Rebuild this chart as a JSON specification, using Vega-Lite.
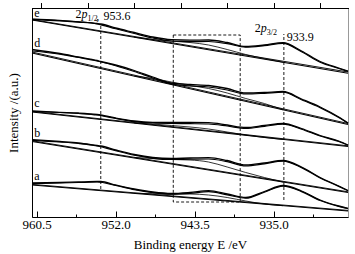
{
 "$schema": "https://vega.github.io/schema/vega-lite/v6.json",
 "width": 316, "height": 209,
 "autosize": {"type": "none"},
 "padding": {"left": 32, "top": 8, "right": 7, "bottom": 37},
 "config": {"view": {"stroke": "#999", "strokeWidth": 1}, "font": "Liberation Serif", "axis": {"labelFont": "Liberation Serif", "titleFont": "Liberation Serif", "labelColor": "black", "titleColor": "black", "domainColor": "black", "tickColor": "black", "grid": false, "titleFontWeight": "normal"}},
 "datasets": {
  "curves": [
   {"s":"e-raw","k":"raw","E":961,"y":197.5},{"s":"e-raw","k":"raw","E":958,"y":196.2},{"s":"e-raw","k":"raw","E":956,"y":195},{"s":"e-raw","k":"raw","E":954,"y":193.5},{"s":"e-raw","k":"raw","E":953.6,"y":193},{"s":"e-raw","k":"raw","E":952,"y":189},{"s":"e-raw","k":"raw","E":950,"y":184.5},{"s":"e-raw","k":"raw","E":948,"y":180},{"s":"e-raw","k":"raw","E":946,"y":177.3},{"s":"e-raw","k":"raw","E":944,"y":176.8},{"s":"e-raw","k":"raw","E":942,"y":177},{"s":"e-raw","k":"raw","E":940,"y":174.5},{"s":"e-raw","k":"raw","E":938,"y":170.5},{"s":"e-raw","k":"raw","E":936,"y":172},{"s":"e-raw","k":"raw","E":934,"y":174.3},{"s":"e-raw","k":"raw","E":932,"y":166},{"s":"e-raw","k":"raw","E":930,"y":155.5},{"s":"e-raw","k":"raw","E":928,"y":149},{"s":"e-raw","k":"raw","E":927,"y":146},
   {"s":"d-raw","k":"raw","E":961,"y":167.5},{"s":"d-raw","k":"raw","E":958,"y":163.5},{"s":"d-raw","k":"raw","E":956,"y":160},{"s":"d-raw","k":"raw","E":954,"y":156.5},{"s":"d-raw","k":"raw","E":953.6,"y":155.5},{"s":"d-raw","k":"raw","E":952,"y":152},{"s":"d-raw","k":"raw","E":950,"y":146.5},{"s":"d-raw","k":"raw","E":948,"y":140},{"s":"d-raw","k":"raw","E":946,"y":134},{"s":"d-raw","k":"raw","E":944,"y":132.5},{"s":"d-raw","k":"raw","E":942,"y":131.5},{"s":"d-raw","k":"raw","E":940,"y":128.5},{"s":"d-raw","k":"raw","E":938,"y":124},{"s":"d-raw","k":"raw","E":936,"y":124.5},{"s":"d-raw","k":"raw","E":934,"y":125.5},{"s":"d-raw","k":"raw","E":932,"y":118},{"s":"d-raw","k":"raw","E":930,"y":110},{"s":"d-raw","k":"raw","E":928,"y":100},{"s":"d-raw","k":"raw","E":927,"y":94},
   {"s":"c-raw","k":"raw","E":961,"y":106},{"s":"c-raw","k":"raw","E":958,"y":104.7},{"s":"c-raw","k":"raw","E":956,"y":104},{"s":"c-raw","k":"raw","E":954,"y":102.5},{"s":"c-raw","k":"raw","E":953.6,"y":102},{"s":"c-raw","k":"raw","E":952,"y":99},{"s":"c-raw","k":"raw","E":950,"y":96},{"s":"c-raw","k":"raw","E":948,"y":94.7},{"s":"c-raw","k":"raw","E":946,"y":94.5},{"s":"c-raw","k":"raw","E":944,"y":94.5},{"s":"c-raw","k":"raw","E":942,"y":94.3},{"s":"c-raw","k":"raw","E":940,"y":92},{"s":"c-raw","k":"raw","E":938,"y":89.5},{"s":"c-raw","k":"raw","E":936,"y":91.5},{"s":"c-raw","k":"raw","E":934,"y":93.5},{"s":"c-raw","k":"raw","E":932,"y":88.5},{"s":"c-raw","k":"raw","E":930,"y":81.5},{"s":"c-raw","k":"raw","E":928,"y":76},{"s":"c-raw","k":"raw","E":927,"y":72},
   {"s":"b-raw","k":"raw","E":961,"y":77.5},{"s":"b-raw","k":"raw","E":958,"y":75.5},{"s":"b-raw","k":"raw","E":956,"y":74},{"s":"b-raw","k":"raw","E":954,"y":71.5},{"s":"b-raw","k":"raw","E":953.6,"y":71},{"s":"b-raw","k":"raw","E":952,"y":67},{"s":"b-raw","k":"raw","E":950,"y":62.5},{"s":"b-raw","k":"raw","E":948,"y":59.5},{"s":"b-raw","k":"raw","E":946,"y":58.5},{"s":"b-raw","k":"raw","E":944,"y":59},{"s":"b-raw","k":"raw","E":942,"y":59.3},{"s":"b-raw","k":"raw","E":940,"y":56.5},{"s":"b-raw","k":"raw","E":938,"y":52},{"s":"b-raw","k":"raw","E":936,"y":54},{"s":"b-raw","k":"raw","E":934,"y":56.5},{"s":"b-raw","k":"raw","E":932,"y":50},{"s":"b-raw","k":"raw","E":930,"y":39.5},{"s":"b-raw","k":"raw","E":928,"y":31},{"s":"b-raw","k":"raw","E":927,"y":26.5},
   {"s":"a-raw","k":"raw","E":961,"y":34},{"s":"a-raw","k":"raw","E":958,"y":34.5},{"s":"a-raw","k":"raw","E":956,"y":35},{"s":"a-raw","k":"raw","E":954,"y":35.5},{"s":"a-raw","k":"raw","E":953.6,"y":35.5},{"s":"a-raw","k":"raw","E":952,"y":32},{"s":"a-raw","k":"raw","E":950,"y":28},{"s":"a-raw","k":"raw","E":948,"y":25},{"s":"a-raw","k":"raw","E":946,"y":23.5},{"s":"a-raw","k":"raw","E":944,"y":24.5},{"s":"a-raw","k":"raw","E":942,"y":26.3},{"s":"a-raw","k":"raw","E":940,"y":23},{"s":"a-raw","k":"raw","E":938,"y":19.5},{"s":"a-raw","k":"raw","E":936,"y":25.5},{"s":"a-raw","k":"raw","E":934,"y":31.5},{"s":"a-raw","k":"raw","E":932,"y":26},{"s":"a-raw","k":"raw","E":930,"y":17},{"s":"a-raw","k":"raw","E":928,"y":11},{"s":"a-raw","k":"raw","E":927,"y":8.7},
   {"s":"e-fit","k":"fit","E":961,"y":197.8},{"s":"e-fit","k":"fit","E":956,"y":195.2},{"s":"e-fit","k":"fit","E":954,"y":193.2},{"s":"e-fit","k":"fit","E":952,"y":188.2},{"s":"e-fit","k":"fit","E":950,"y":183.5},{"s":"e-fit","k":"fit","E":948,"y":179},{"s":"e-fit","k":"fit","E":946,"y":176},{"s":"e-fit","k":"fit","E":944,"y":175.3},{"s":"e-fit","k":"fit","E":942,"y":175.5},{"s":"e-fit","k":"fit","E":940,"y":173.3},{"s":"e-fit","k":"fit","E":938,"y":169.8},{"s":"e-fit","k":"fit","E":936,"y":171.3},{"s":"e-fit","k":"fit","E":934,"y":173.6},{"s":"e-fit","k":"fit","E":932,"y":165.2},{"s":"e-fit","k":"fit","E":930,"y":154.8},{"s":"e-fit","k":"fit","E":928,"y":148.5},{"s":"e-fit","k":"fit","E":927,"y":145.5},
   {"s":"d-fit","k":"fit","E":961,"y":166},{"s":"d-fit","k":"fit","E":958,"y":162.8},{"s":"d-fit","k":"fit","E":956,"y":159.5},{"s":"d-fit","k":"fit","E":954,"y":156},{"s":"d-fit","k":"fit","E":952,"y":151.3},{"s":"d-fit","k":"fit","E":950,"y":145.5},{"s":"d-fit","k":"fit","E":948,"y":139},{"s":"d-fit","k":"fit","E":946,"y":133},{"s":"d-fit","k":"fit","E":944,"y":131},{"s":"d-fit","k":"fit","E":942,"y":130},{"s":"d-fit","k":"fit","E":940,"y":127},{"s":"d-fit","k":"fit","E":938,"y":123},{"s":"d-fit","k":"fit","E":936,"y":123.7},{"s":"d-fit","k":"fit","E":934,"y":124.8},{"s":"d-fit","k":"fit","E":932,"y":117.3},{"s":"d-fit","k":"fit","E":930,"y":109.3},{"s":"d-fit","k":"fit","E":928,"y":99.5},{"s":"d-fit","k":"fit","E":927,"y":93.7},
   {"s":"c-fit","k":"fit","E":961,"y":105.5},{"s":"c-fit","k":"fit","E":956,"y":103.5},{"s":"c-fit","k":"fit","E":954,"y":102},{"s":"c-fit","k":"fit","E":952,"y":98.5},{"s":"c-fit","k":"fit","E":950,"y":95.3},{"s":"c-fit","k":"fit","E":948,"y":94},{"s":"c-fit","k":"fit","E":946,"y":93.5},{"s":"c-fit","k":"fit","E":944,"y":93.3},{"s":"c-fit","k":"fit","E":942,"y":93},{"s":"c-fit","k":"fit","E":940,"y":91},{"s":"c-fit","k":"fit","E":938,"y":88.5},{"s":"c-fit","k":"fit","E":936,"y":90.7},{"s":"c-fit","k":"fit","E":934,"y":92.8},{"s":"c-fit","k":"fit","E":932,"y":87.8},{"s":"c-fit","k":"fit","E":930,"y":81},{"s":"c-fit","k":"fit","E":928,"y":75.5},{"s":"c-fit","k":"fit","E":927,"y":71.7},
   {"s":"b-fit","k":"fit","E":961,"y":76.7},{"s":"b-fit","k":"fit","E":958,"y":75},{"s":"b-fit","k":"fit","E":956,"y":73.5},{"s":"b-fit","k":"fit","E":954,"y":71},{"s":"b-fit","k":"fit","E":952,"y":66.3},{"s":"b-fit","k":"fit","E":950,"y":61.8},{"s":"b-fit","k":"fit","E":948,"y":58.7},{"s":"b-fit","k":"fit","E":946,"y":57.5},{"s":"b-fit","k":"fit","E":944,"y":57.8},{"s":"b-fit","k":"fit","E":942,"y":58},{"s":"b-fit","k":"fit","E":940,"y":55.3},{"s":"b-fit","k":"fit","E":938,"y":51},{"s":"b-fit","k":"fit","E":936,"y":53.2},{"s":"b-fit","k":"fit","E":934,"y":55.8},{"s":"b-fit","k":"fit","E":932,"y":49.4},{"s":"b-fit","k":"fit","E":930,"y":39},{"s":"b-fit","k":"fit","E":928,"y":30.6},{"s":"b-fit","k":"fit","E":927,"y":26.2},
   {"s":"a-fit","k":"fit","E":961,"y":33.3},{"s":"a-fit","k":"fit","E":958,"y":34},{"s":"a-fit","k":"fit","E":956,"y":34.5},{"s":"a-fit","k":"fit","E":954,"y":35},{"s":"a-fit","k":"fit","E":952,"y":31.5},{"s":"a-fit","k":"fit","E":950,"y":27.3},{"s":"a-fit","k":"fit","E":948,"y":24.3},{"s":"a-fit","k":"fit","E":946,"y":22.8},{"s":"a-fit","k":"fit","E":944,"y":23.6},{"s":"a-fit","k":"fit","E":942,"y":25.3},{"s":"a-fit","k":"fit","E":940,"y":22.2},{"s":"a-fit","k":"fit","E":938,"y":18.8},{"s":"a-fit","k":"fit","E":936,"y":24.8},{"s":"a-fit","k":"fit","E":934,"y":30.8},{"s":"a-fit","k":"fit","E":932,"y":25.4},{"s":"a-fit","k":"fit","E":930,"y":16.5},{"s":"a-fit","k":"fit","E":928,"y":10.6},{"s":"a-fit","k":"fit","E":927,"y":8.4},
   {"s":"e-sat","k":"sat","E":950,"y":179.8},{"s":"e-sat","k":"sat","E":948,"y":177.5},{"s":"e-sat","k":"sat","E":946,"y":175.8},{"s":"e-sat","k":"sat","E":944,"y":174.5},{"s":"e-sat","k":"sat","E":942,"y":172},{"s":"e-sat","k":"sat","E":940,"y":167.5},{"s":"e-sat","k":"sat","E":938,"y":162.5},{"s":"e-sat","k":"sat","E":936,"y":158.4},{"s":"e-sat","k":"sat","E":934,"y":154.8},
   {"s":"d-sat","k":"sat","E":950,"y":141},{"s":"d-sat","k":"sat","E":948,"y":138.5},{"s":"d-sat","k":"sat","E":946,"y":135},{"s":"d-sat","k":"sat","E":944,"y":131.5},{"s":"d-sat","k":"sat","E":942,"y":128.5},{"s":"d-sat","k":"sat","E":940,"y":124},{"s":"d-sat","k":"sat","E":938,"y":118.5},{"s":"d-sat","k":"sat","E":936,"y":113.5},{"s":"d-sat","k":"sat","E":934,"y":107.2},
   {"s":"c-sat","k":"sat","E":950,"y":94},{"s":"c-sat","k":"sat","E":948,"y":93},{"s":"c-sat","k":"sat","E":946,"y":91.5},{"s":"c-sat","k":"sat","E":944,"y":90},{"s":"c-sat","k":"sat","E":942,"y":88},{"s":"c-sat","k":"sat","E":940,"y":85},{"s":"c-sat","k":"sat","E":938,"y":82},{"s":"c-sat","k":"sat","E":936,"y":79.5},{"s":"c-sat","k":"sat","E":934,"y":77.5},
   {"s":"b-sat","k":"sat","E":950,"y":59.5},{"s":"b-sat","k":"sat","E":948,"y":58.5},{"s":"b-sat","k":"sat","E":946,"y":57.5},{"s":"b-sat","k":"sat","E":944,"y":57},{"s":"b-sat","k":"sat","E":942,"y":55},{"s":"b-sat","k":"sat","E":940,"y":50},{"s":"b-sat","k":"sat","E":938,"y":44.5},{"s":"b-sat","k":"sat","E":936,"y":39.5},{"s":"b-sat","k":"sat","E":934,"y":35},
   {"s":"a-sat","k":"sat","E":950,"y":23.7},{"s":"a-sat","k":"sat","E":948,"y":23.3},{"s":"a-sat","k":"sat","E":946,"y":22.8},{"s":"a-sat","k":"sat","E":944,"y":23},{"s":"a-sat","k":"sat","E":942,"y":22},{"s":"a-sat","k":"sat","E":940,"y":19.5},{"s":"a-sat","k":"sat","E":938,"y":16},{"s":"a-sat","k":"sat","E":936,"y":13},{"s":"a-sat","k":"sat","E":934,"y":11.3},
   {"s":"e-bg","k":"bg","E":961,"y":197.1},{"s":"e-bg","k":"bg","E":927,"y":143.8},
   {"s":"d-bg","k":"bg","E":961,"y":164},{"s":"d-bg","k":"bg","E":927,"y":92.5},
   {"s":"c-bg","k":"bg","E":961,"y":105.1},{"s":"c-bg","k":"bg","E":927,"y":70.4},
   {"s":"b-bg","k":"bg","E":961,"y":75.6},{"s":"b-bg","k":"bg","E":927,"y":24.4},
   {"s":"a-bg","k":"bg","E":961,"y":32},{"s":"a-bg","k":"bg","E":927,"y":5.9},
   {"s":"e-bg2","k":"bg2","E":961,"y":197.5},{"s":"e-bg2","k":"bg2","E":927,"y":145},
   {"s":"d-bg2","k":"bg2","E":961,"y":165},{"s":"d-bg2","k":"bg2","E":927,"y":93.5},
   {"s":"c-bg2","k":"bg2","E":961,"y":105.6},{"s":"c-bg2","k":"bg2","E":927,"y":71.2},
   {"s":"b-bg2","k":"bg2","E":961,"y":76.2},{"s":"b-bg2","k":"bg2","E":927,"y":25.2},
   {"s":"a-bg2","k":"bg2","E":961,"y":32.6},{"s":"a-bg2","k":"bg2","E":927,"y":6.6}
  ],
  "vlines": [
   {"E":953.6,"y1":28,"y2":192},
   {"E":933.9,"y1":17,"y2":183}
  ],
  "box": [{"E1":945.8,"E2":938.6,"y1":15,"y2":182}],
  "minor": [{"E":956.25},{"E":947.75},{"E":939.25},{"E":930.75}],
  "labels": [
   {"t":"e","E":960.77,"y":200},
   {"t":"d","E":960.77,"y":170.3},
   {"t":"c","E":960.77,"y":110.3},
   {"t":"b","E":960.77,"y":80.3},
   {"t":"a","E":960.77,"y":37},
   {"t":"2","E":956.32,"y":199.5},
   {"t":",","E":954.1,"y":197},
   {"t":"953.6","E":953.32,"y":197},
   {"t":"2","E":937.03,"y":185},
   {"t":"933.9","E":933.6,"y":176}
  ],
  "ital": [
   {"t":"p","E":955.68,"y":199.5},
   {"t":"p","E":936.38,"y":185}
  ],
  "subs": [
   {"t":"1/2","E":955.03,"y":196},
   {"t":"3/2","E":935.74,"y":182}
  ]
 },
 "layer": [
  {
   "data": {"name": "curves"},
   "mark": {"type": "line", "interpolate": "monotone", "color": "black"},
   "encoding": {
    "x": {"field": "E", "type": "quantitative", "scale": {"domain": [961, 927], "nice": false, "zero": false},
          "axis": {"orient": "bottom", "values": [960.5, 952, 943.5, 935], "format": ".1f", "tickSize": -6, "labelPadding": 7, "labelFontSize": 13, "title": "Binding energy    E /eV", "titleFontSize": 13, "titlePadding": 7}},
    "y": {"field": "y", "type": "quantitative", "scale": {"domain": [0, 209], "nice": false, "zero": false},
          "axis": {"ticks": false, "labels": false, "title": "Intensity /(a.u.)", "titleFontSize": 13, "titlePadding": 12}},
    "detail": {"field": "s"},
    "order": {"field": "E", "sort": "descending"},
    "strokeWidth": {"field": "k", "type": "nominal", "scale": {"domain": ["raw", "fit", "bg", "bg2", "sat"], "range": [1.3, 0.8, 1.1, 0.8, 0.8]}, "legend": null}
   }
  },
  {
   "data": {"name": "minor"},
   "mark": {"type": "point", "opacity": 0},
   "encoding": {
    "x": {"field": "E", "type": "quantitative", "scale": {"domain": [961, 927], "nice": false, "zero": false},
          "axis": {"orient": "bottom", "values": [956.25, 947.75, 939.25, 930.75], "labels": false, "tickSize": -3, "title": null, "domain": false}},
    "y": {"datum": 100, "type": "quantitative"}
   }
  },
  {
   "data": {"name": "vlines"},
   "mark": {"type": "rule", "color": "black", "strokeWidth": 0.9, "strokeDash": [3, 2]},
   "encoding": {
    "x": {"field": "E", "type": "quantitative"},
    "y": {"field": "y1", "type": "quantitative"},
    "y2": {"field": "y2"}
   }
  },
  {
   "data": {"name": "box"},
   "mark": {"type": "rect", "fill": null, "fillOpacity": 0, "stroke": "black", "strokeWidth": 0.9, "strokeDash": [3, 2]},
   "encoding": {
    "x": {"field": "E1", "type": "quantitative"},
    "x2": {"field": "E2"},
    "y": {"field": "y1", "type": "quantitative"},
    "y2": {"field": "y2"}
   }
  },
  {
   "data": {"name": "labels"},
   "mark": {"type": "text", "align": "left", "baseline": "alphabetic", "font": "Liberation Serif", "fontSize": 12, "color": "black"},
   "encoding": {
    "x": {"field": "E", "type": "quantitative"},
    "y": {"field": "y", "type": "quantitative"},
    "text": {"field": "t"}
   }
  },
  {
   "data": {"name": "ital"},
   "mark": {"type": "text", "align": "left", "baseline": "alphabetic", "font": "Liberation Serif", "fontStyle": "italic", "fontSize": 12, "color": "black"},
   "encoding": {
    "x": {"field": "E", "type": "quantitative"},
    "y": {"field": "y", "type": "quantitative"},
    "text": {"field": "t"}
   }
  },
  {
   "data": {"name": "subs"},
   "mark": {"type": "text", "align": "left", "baseline": "alphabetic", "font": "Liberation Serif", "fontSize": 8, "color": "black"},
   "encoding": {
    "x": {"field": "E", "type": "quantitative"},
    "y": {"field": "y", "type": "quantitative"},
    "text": {"field": "t"}
   }
  }
 ],
 "resolve": {"axis": {"x": "independent"}}
}
